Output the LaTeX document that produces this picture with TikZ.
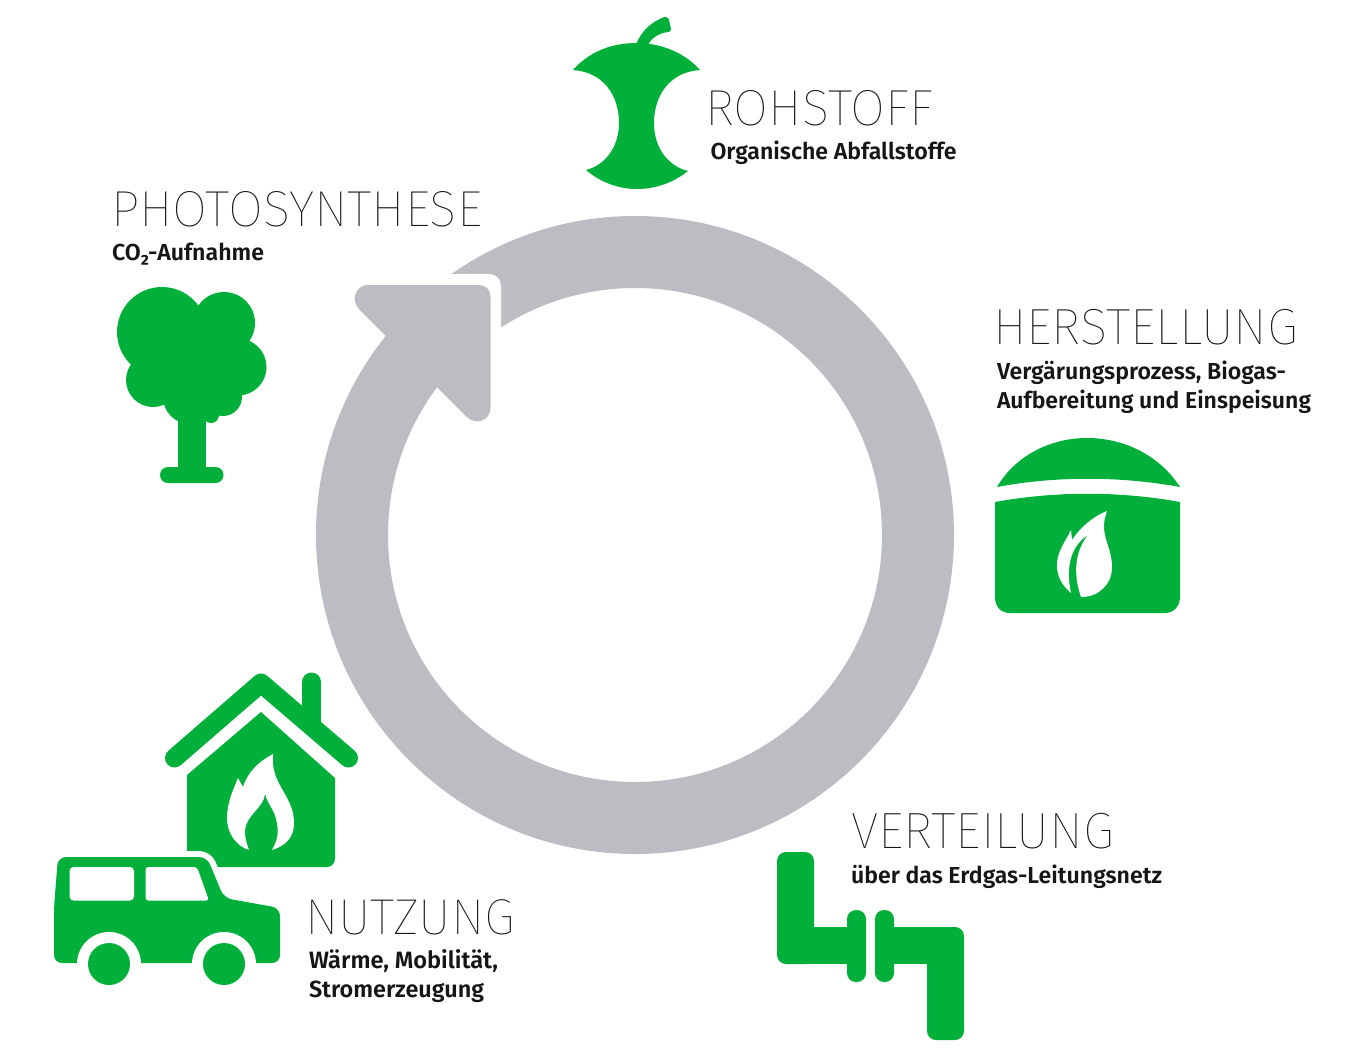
\documentclass[tikz,border=0pt]{standalone}
\usepackage{fontspec}
\setmainfont{Fira Sans}
\newfontfamily\titlefont{Fira Sans Thin}
\newfontfamily\subfont{Fira Sans SemiBold}
\newcommand{\fitw}[2]{\resizebox{#1pt}{!}{#2}}
\definecolor{leaf}{RGB}{0,176,58}
\definecolor{ringgrey}{RGB}{188,189,195}
\definecolor{ink}{RGB}{22,22,24}
\tikzset{
  ttl/.style={anchor=base west,inner sep=0pt,outer sep=0pt,text=ink,font=\titlefont\fontsize{51}{51}\selectfont},
  sub/.style={anchor=base west,inner sep=0pt,outer sep=0pt,text=ink,font=\subfont\fontsize{24}{24}\selectfont},
  roof/.style={draw=leaf,line width=19pt,line cap=round,line join=round}
}
\begin{document}
\begin{tikzpicture}[x=1pt,y=-1pt]
\useasboundingbox (0,0) rectangle (1360,1058);
\fill[white] (0,0) rectangle (1360,1058);
% ring
\fill[ringgrey,even odd rule] (635,535) circle (319) (635,535) circle (247);
\fill[white] (345,274) -- (489,274) .. controls (496,274) and (501,279) .. (501,286) -- (501,400) -- (441,383) -- (389,331) -- (345,295) -- cycle;
% arrow head
\fill[ringgrey] (385,335) -- (359,309) .. controls (350,300) and (356,285) .. (368,285) -- (479,285) .. controls (486,285) and (490.5,290) .. (490.5,297) -- (490.5,408) .. controls (490.5,420) and (476,426) .. (467,417) -- (437,387) -- cycle;
% apple
\fill[leaf] (573,70) .. controls (590,51) and (612,43) .. (637,43) .. controls (660,43) and (684,52) .. (700,70) .. controls (670,72) and (654,95) .. (654,123) .. controls (654,148) and (668,166) .. (688,171) .. controls (673,183) and (655,189) .. (637,189) .. controls (618,189) and (600,182) .. (586,170) .. controls (606,165) and (619,146) .. (619,123) .. controls (619,95) and (603,72) .. (573,70) -- cycle;
\fill[leaf] (636,44) .. controls (642,31) and (650,23) .. (662,18) .. controls (665,16) and (668,17) .. (669,20) -- (671,29) .. controls (671,31) and (670,32) .. (668,32) .. controls (660,33) and (652,37) .. (648,45) -- cycle;
% tree
\fill[leaf] (162,332) circle (45) (224,323) circle (31) (238,367) circle (28.5) (153,380) circle (27) (190,397) circle (27) (223,397) circle (19) (211,415) circle (8) (195,360) circle (40);
\fill[leaf] (178,410) rectangle (206,470);
\fill[leaf,rounded corners=8pt] (160,467) rectangle (223.5,483);
% biogas
\fill[leaf] (997,487) .. controls (1015,456) and (1050,438) .. (1087,438) .. controls (1125,438) and (1160,456) .. (1180,487) .. controls (1120,476) and (1055,476) .. (997,487) -- cycle;
\fill[leaf] (995,502) .. controls (1055,491) and (1120,491) .. (1180,502) -- (1180,597) .. controls (1180,607) and (1173,613) .. (1165,613) -- (1010,613) .. controls (1001,613) and (995,607) .. (995,597) -- cycle;
\fill[white] (1107,511) .. controls (1098,535) and (1112,545) .. (1112,567) .. controls (1112,585) and (1098,597) .. (1081,597) .. controls (1075,580) and (1072,555) .. (1088,535) .. controls (1072,545) and (1065,565) .. (1071,593) .. controls (1062,585) and (1057,577) .. (1057,565) .. controls (1057,552) and (1065,542) .. (1071,530) -- (1072,540) .. controls (1080,528) and (1092,517) .. (1107,511) -- cycle;
% pipes
\fill[leaf,rounded corners=9pt] (777,852) rectangle (814,964);
\fill[leaf] (795,927) rectangle (855,964);
\fill[leaf,rounded corners=9pt] (847,910) rectangle (866,982);
\fill[leaf,rounded corners=9pt] (875,910) rectangle (894,982);
\fill[leaf,rounded corners=9pt] (927,927) rectangle (964,1040);
\fill[leaf] (885,927) rectangle (945,964);
% house
\fill[leaf] (187,775) -- (261,712) -- (335,778) -- (335,858) .. controls (335,863) and (332,867) .. (327,867) -- (187,867) -- cycle;
\fill[white] (273,754) .. controls (270,785) and (294,795) .. (294,823) .. controls (294,838) and (285,846) .. (272,850) .. controls (279,838) and (278,830) .. (277,823) .. controls (275,810) and (268,805) .. (265,794) .. controls (264,808) and (245,815) .. (245,832) .. controls (245,838) and (247,845) .. (249,850) .. controls (236,846) and (227,833) .. (227,818) .. controls (227,803) and (233,790) .. (238,778) -- (243,787) .. controls (248,772) and (258,762) .. (273,754) -- cycle;
\draw[roof] (174.5,758) -- (261,683) -- (348.5,758);
\draw[roof] (311.5,682) -- (311.5,725);
% car
\path[fill=leaf,draw=white,line width=12pt,rounded corners=8pt] (54,963) -- (54,907) -- (58,857) -- (207,857) -- (224,898) -- (280,908) -- (280,963) -- cycle;
\fill[leaf,rounded corners=8pt] (54,963) -- (54,907) -- (58,857) -- (207,857) -- (224,898) -- (280,908) -- (280,963) -- cycle;
\fill[white] (109,964) circle (32) (224,964) circle (32);
\fill[leaf] (109,964) circle (21) (224,964) circle (21);
\fill[white,rounded corners=4pt] (69.5,867) rectangle (134,900.5);
\fill[white,rounded corners=3pt] (145.5,867) -- (197,867) -- (209,900.5) -- (145.5,900.5) -- cycle;
% labels
\node[ttl] (t1) at (705,125.5) {\fitw{228}{ROHSTOFF}};
\node[sub] (s1) at (710.5,159) {\fitw{246}{Organische Abfallstoffe}};
\node[ttl] (t2) at (111,226) {\fitw{371}{PHOTOSYNTHESE}};
\node[sub] (s2) at (112,260) {\fitw{152}{CO₂-Aufnahme}};
\node[ttl] (t3) at (993,344.5) {\fitw{305}{HERSTELLUNG}};
\node[sub] (s3) at (997,379) {\fitw{289}{Vergärungsprozess, Biogas-}};
\node[sub] (s4) at (997,408) {\fitw{314}{Aufbereitung und Einspeisung}};
\node[ttl] (t4) at (851,848.5) {\fitw{263}{VERTEILUNG}};
\node[sub] (s5) at (851,883) {\fitw{311}{über das Erdgas-Leitungsnetz}};
\node[ttl] (t5) at (305,934) {\fitw{210}{NUTZUNG}};
\node[sub] (s6) at (309,968) {\fitw{189}{Wärme, Mobilität,}};
\node[sub] (s7) at (309,997) {\fitw{175}{Stromerzeugung}};
\end{tikzpicture}
\end{document}
